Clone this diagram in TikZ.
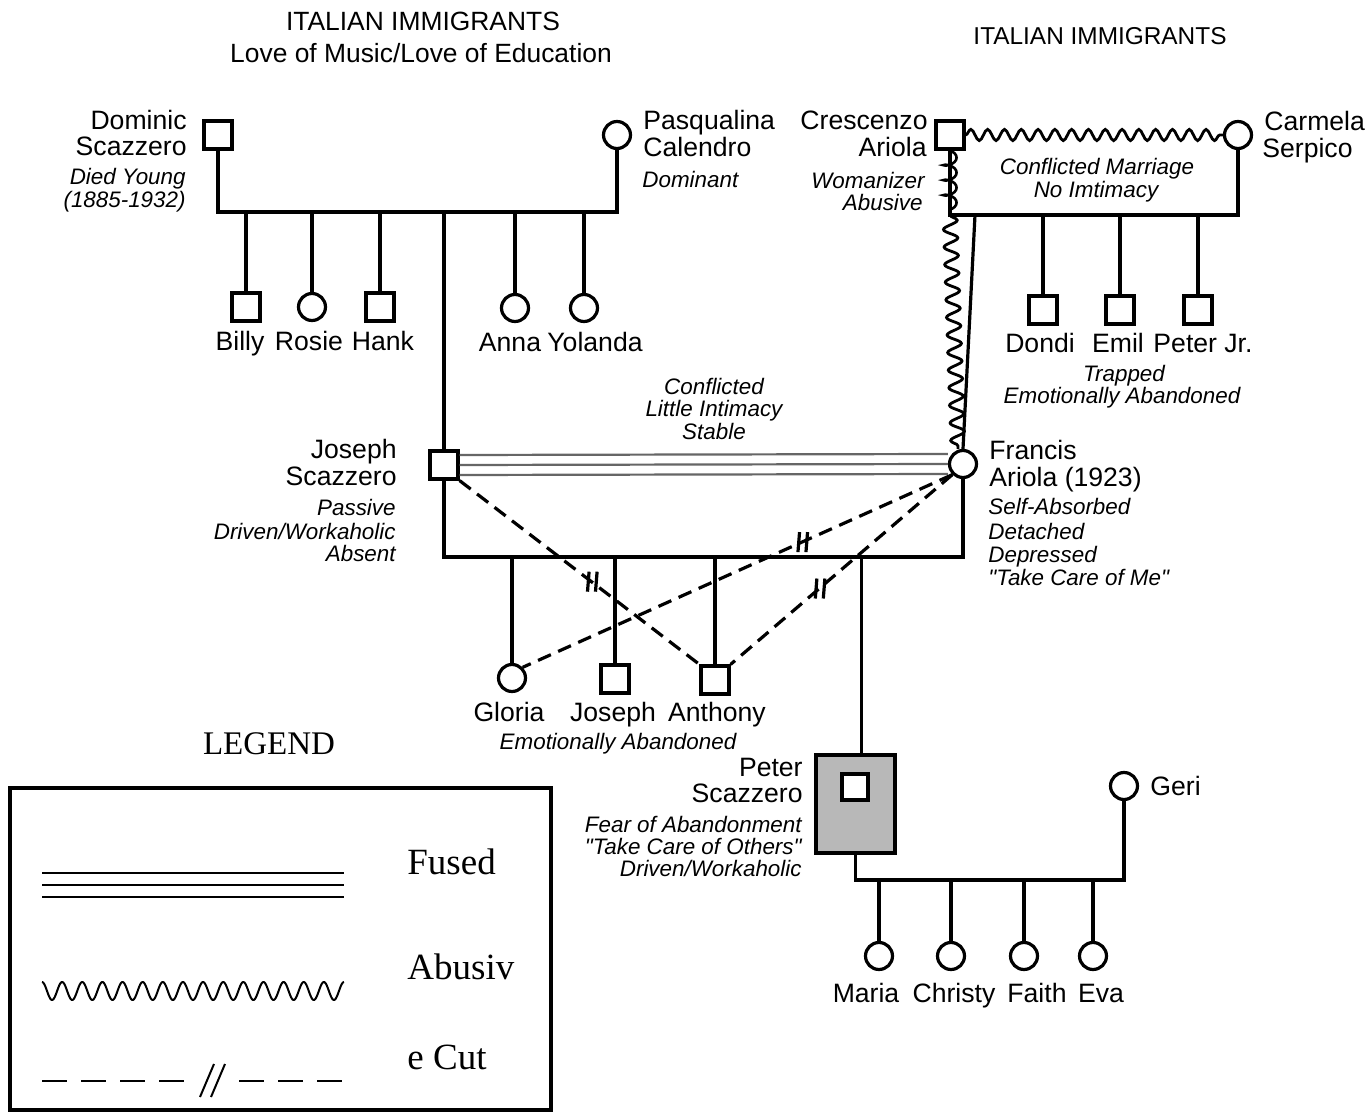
\documentclass[tikz,border=0pt]{standalone}
\usepackage{fontspec}
\setmainfont{Liberation Sans}
\newfontfamily\nomapfont{Liberation Sans}[Ligatures=ResetAll]
\newfontfamily\legendfont{Liberation Serif}
\usetikzlibrary{decorations.pathmorphing,decorations.markings}
\newcommand\dquo{{\nomapfont\itshape\symbol{34}}}
\tikzset{
  male/.style={draw, rectangle, minimum size=14pt, inner sep=0pt, line width=1.6pt, fill=white},
  female/.style={draw, circle, minimum size=13.5pt, inner sep=0pt, line width=1.6pt, fill=white},
  rel/.style={line width=1.6pt},
  nm/.style={font=\fontsize{13.3}{15}\selectfont, inner sep=0pt},
  itl/.style={font=\fontsize{11.2}{13}\selectfont\itshape, inner sep=0pt},
  ttl/.style={font=\fontsize{13.2}{15}\selectfont, inner sep=0pt},
  lgd/.style={font=\legendfont\fontsize{18.5}{22}\selectfont, inner sep=0pt},
  fused/.style={line width=1.1pt, draw=black!60},
  wavy/.style={line width=1.4pt, decorate, decoration={snake, amplitude=2.8pt, segment length=8.4pt}},
  wavyv/.style={line width=1.4pt, decorate, decoration={snake, amplitude=3.5pt, segment length=8.8pt}},
  coily/.style={line width=1.3pt, decorate, decoration={coil, amplitude=3.3pt, segment length=7.5pt, aspect=0.5}},
  cutline/.style={line width=1.6pt, dash pattern=on 7pt off 4pt},
  cutmark/.style={postaction={decorate}, decoration={markings, mark=at position #1 with {\pgftransformresetnontranslations \draw[solid, line width=1.6pt] (-2pt,-5pt)--(-1.2pt,5pt) (2pt,-5pt)--(2.8pt,5pt);}}},
}
\begin{document}
\begin{tikzpicture}[x=0.5pt,y=-0.5pt]
\useasboundingbox (0,0) rectangle (1366,1112);
\fill[white] (0,0) rectangle (1366,1112);

% titles
\node[ttl, anchor=base] (t1) at (423,31) {ITALIAN IMMIGRANTS};
\node[ttl, anchor=base] (t2) at (421,63) {Love of Music/Love of Education};
\node[ttl, font=\fontsize{12.2}{15}\selectfont, anchor=base] (t3) at (1100,45) {ITALIAN IMMIGRANTS};

\coordinate (b1) at (0,212);
\coordinate (b2) at (0,215);
\coordinate (b3) at (0,557);
\coordinate (b4) at (0,880);

% Scazzero grandparents
\node[male] (dom) at (218,135) {};
\node[female] (pas) at (617,135) {};
\draw[rel] (dom.south) -- (dom.south |- b1) -- (pas.south |- b1) -- (pas.south);
\node[nm, anchor=base east] (domA) at (187,130) {Dominic};
\node[nm, anchor=base east] (domB) at (187,156) {Scazzero};
\node[itl, anchor=base east] (domC) at (186,185) {Died Young};
\node[itl, anchor=base east] (domD) at (186,208) {(1885-1932)};
\node[nm, anchor=base west] (pasA) at (643,130) {Pasqualina};
\node[nm, anchor=base west] (pasB) at (643,157) {Calendro};
\node[itl, anchor=base west] (pasC) at (642,188) {Dominant};

\node[male] (billy) at (246,307) {};
\node[female] (rosie) at (312,307) {};
\node[male] (hank) at (380,307) {};
\node[female] (anna) at (515,308) {};
\node[female] (yol) at (584,308) {};
\foreach \c in {billy,rosie,hank,anna,yol} \draw[rel] (\c.north) -- (\c.north |- b1);
\node[nm, anchor=base] (billyL) at (240,351) {Billy};
\node[nm, anchor=base] (rosieL) at (309,351) {Rosie};
\node[nm, anchor=base] (hankL) at (383,351) {Hank};
\node[nm, anchor=base] (annaL) at (510,352) {Anna};
\node[nm, anchor=base] (yolL) at (595,352) {Yolanda};

% Ariola grandparents
\node[male] (cre) at (950,135) {};
\node[female] (car) at (1238,135) {};
\draw[rel] (cre.south) -- (cre.south |- b2) -- (car.south |- b2) -- (car.south);
\draw[wavy] (cre.east) -- (car.west);
\draw[coily] (cre.south) -- (cre.south |- b2);
\node[nm, anchor=base east] (creA) at (928,130) {Crescenzo};
\node[nm, anchor=base east] (creB) at (927,157) {Ariola};
\node[itl, anchor=base east] (creC) at (925,189) {Womanizer};
\node[itl, anchor=base east] (creD) at (923,211) {Abusive};
\node[nm, anchor=base west] (carA) at (1264,131) {Carmela};
\node[nm, anchor=base west] (carB) at (1262,158) {Serpico};
\node[itl, anchor=base] (cmA) at (1097,175) {Conflicted Marriage};
\node[itl, anchor=base] (cmB) at (1096,198) {No Imtimacy};

\node[male] (dondi) at (1043,310) {};
\node[male] (emil) at (1120,310) {};
\node[male] (pjr) at (1198,310) {};
\foreach \c in {dondi,emil,pjr} \draw[rel] (\c.north) -- (\c.north |- b2);
\node[nm, anchor=base] (dondiL) at (1040,353) {Dondi};
\node[nm, anchor=base] (emilL) at (1118,353) {Emil};
\node[nm, anchor=base] (pjrL) at (1203,353) {Peter Jr.};
\node[itl, anchor=base] (trA) at (1124,382) {Trapped};
\node[itl, anchor=base] (trB) at (1122,404) {Emotionally Abandoned};

% parents
\node[male] (jos) at (444,465) {};
\node[female] (fra) at (963,464) {};
\draw[rel] (jos.north) -- (jos.north |- b1);
\coordinate (fraTop) at (975,215);
\draw[rel] (fraTop) -- (fra.north);
\draw[wavyv] (cre.south |- b2) -- ([xshift=-2.5pt]fra.north);
\draw[fused] ([yshift=5pt]jos.east) -- ([yshift=5pt]fra.west);
\draw[fused] (jos.east) -- (fra.west);
\draw[fused] ([yshift=-5pt]jos.east) -- ([yshift=-5pt]fra.west);
\draw[rel] (jos.south) -- (jos.south |- b3) -- (fra.south |- b3) -- (fra.south);
\node[itl, anchor=base] (ciA) at (714,395) {Conflicted};
\node[itl, anchor=base] (ciB) at (714,417) {Little Intimacy};
\node[itl, anchor=base] (ciC) at (714,440) {Stable};
\node[nm, anchor=base east] (josA) at (397,459) {Joseph};
\node[nm, anchor=base east] (josB) at (397,486) {Scazzero};
\node[itl, anchor=base east] (josC) at (396,516) {Passive};
\node[itl, anchor=base east] (josD) at (396,539) {Driven/Workaholic};
\node[itl, anchor=base east] (josE) at (396,561) {Absent};
\node[nm, anchor=base west] (fraA) at (989,460) {Francis};
\node[nm, anchor=base west] (fraB) at (989,487) {Ariola (1923)};
\node[itl, anchor=base west] (fraC) at (988,515) {Self-Absorbed};
\node[itl, anchor=base west] (fraD) at (988,539) {Detached};
\node[itl, anchor=base west] (fraE) at (988,562) {Depressed};
\node[itl, anchor=base west] (fraF) at (988,585) {\dquo Take Care of Me\dquo};

% children
\node[female] (glo) at (512,678) {};
\node[male] (joj) at (615,679) {};
\node[male] (ant) at (715,680) {};
\node[draw, fill=black!28, line width=1.6pt, minimum width=39.5pt, minimum height=49pt, inner sep=0pt] (pbox) at (855.5,804) {};
\node[male, minimum size=13pt] (pet) at (855,787) {};
\foreach \c in {glo,joj,ant} \draw[rel] (\c.north) -- (\c.north |- b3);
\draw[rel] ([xshift=3pt]pbox.north) -- ([xshift=3pt]pbox.north |- b3);
\node[nm, anchor=base] (gloL) at (509,721) {Gloria};
\node[nm, anchor=base] (jojL) at (613,721) {Joseph};
\node[nm, anchor=base] (antL) at (717,721) {Anthony};
\node[itl, anchor=base] (eaL) at (618,749) {Emotionally Abandoned};

% cutoffs
\draw[cutline, cutmark=0.55] (jos.south east) -- (ant.north west);
\draw[cutline, cutmark=0.35] (fra.south west) -- (glo.north east);
\draw[cutline, cutmark=0.6] (fra.south west) -- (ant.north east);

% Peter
\node[nm, anchor=base east] (petA) at (803,776) {Peter};
\node[nm, anchor=base east] (petB) at (803,802) {Scazzero};
\node[itl, anchor=base east] (petC) at (802,832) {Fear of Abandonment};
\node[itl, anchor=base east] (petD) at (802,854) {\dquo Take Care of Others\dquo};
\node[itl, anchor=base east] (petE) at (802,876) {Driven/Workaholic};
\node[female] (geri) at (1124,786) {};
\node[nm, anchor=base west] (geriL) at (1150,795) {Geri};
\draw[rel] (pbox.south) -- (pbox.south |- b4) -- (geri.south |- b4) -- (geri.south);
\node[female] (maria) at (879,956) {};
\node[female] (christy) at (951,956) {};
\node[female] (faith) at (1024,956) {};
\node[female] (eva) at (1093,956) {};
\foreach \c in {maria,christy,faith,eva} \draw[rel] (\c.north) -- (\c.north |- b4);
\node[nm, anchor=base] (mariaL) at (866,1002) {Maria};
\node[nm, anchor=base] (christyL) at (954,1002) {Christy};
\node[nm, anchor=base] (faithL) at (1037,1002) {Faith};
\node[nm, anchor=base] (evaL) at (1101,1002) {Eva};

% legend
\node[font=\legendfont\fontsize{16.5}{20}\selectfont, inner sep=0pt, anchor=base] (lgT) at (269,754) {LEGEND};
\draw[line width=2pt] (10,788) rectangle (551,1110);
\draw[line width=0.9pt] (42,873) -- (344,873) (42,885) -- (344,885) (42,897) -- (344,897);
\draw[line width=1pt, line join=round, domain=0:302, samples=400] plot ({42+\x}, {991 - 9*cos(17.881*\x)});
\draw[line width=1pt, dash pattern=on 12.5pt off 7pt] (42,1081) -- (184,1081);
\draw[line width=1pt, dash pattern=on 12.5pt off 7pt] (239,1081) -- (343,1081);
\draw[line width=1pt] (200,1097) -- (214,1064) (211,1097) -- (225,1064);
\node[lgd, anchor=base west] (lgA) at (407,874) {Fused};
\node[lgd, anchor=base west] (lgB) at (407,979) {Abusiv};
\node[lgd, anchor=base west] (lgC) at (407,1069) {e Cut};
\end{tikzpicture}
\end{document}
